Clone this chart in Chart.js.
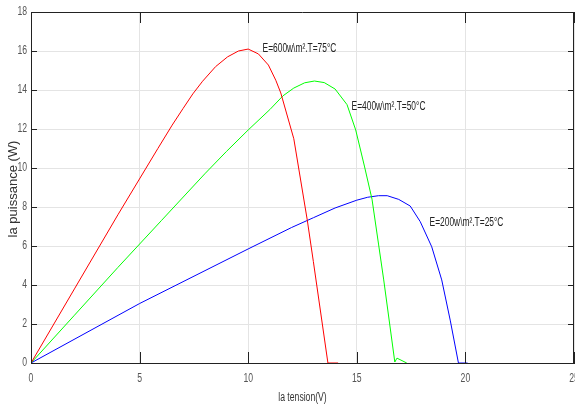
<!DOCTYPE html>
<html>
<head>
<meta charset="utf-8">
<script src="https://cdn.jsdelivr.net/npm/chart.js@4/dist/chart.umd.min.js"></script>
<style>
  html, body { margin: 0; padding: 0; background: #fff; overflow: hidden; }
  #box { width: 590px; height: 408px; }
</style>
</head>
<body>
<div id="box"><canvas id="courbes"></canvas></div>
<script>
// Courbes P(V)
const tensionRouge = [0, 2, 4, 5.84, 6.5, 7, 7.45, 7.9, 8.5, 9.05, 9.55, 10, 10.47, 10.93, 11.27, 11.5, 12.1, 12.72, 13.0, 13.67, 14.14];
const puissRouge   = [0, 3.8, 7.6, 11.0, 12.2, 13.05, 13.8, 14.45, 15.2, 15.7, 16.0, 16.1, 15.85, 15.28, 14.5, 13.85, 11.5, 7.33, 5.2, 0, 0];

const tensionVert = [0, 2, 4, 6, 8, 9, 10, 11, 11.6, 12.1, 12.6, 13.05, 13.5, 14.0, 14.55, 14.95, 15.35, 15.7, 16.0, 16.24, 16.75, 16.85, 17.3];
const puissVert   = [0, 2.45, 4.9, 7.3, 9.7, 10.85, 11.95, 13.0, 13.7, 14.1, 14.37, 14.46, 14.38, 14.05, 13.25, 11.95, 10.1, 8.4, 6.1, 4.26, 0.05, 0.25, 0];

const tensionBleu = [0, 5, 10, 12, 13, 14, 15, 15.5, 16, 16.4, 16.93, 17.46, 17.92, 18.45, 18.91, 19.3, 19.68, 20.1];
const puissBleu   = [0, 3.05, 5.85, 6.95, 7.45, 7.95, 8.35, 8.5, 8.58, 8.58, 8.39, 8.05, 7.25, 5.96, 4.26, 2.2, 0, 0];

// Graduations
const ticksTension = [0, 5, 10, 15, 20, 25];
const ticksPuiss = [0, 2, 4, 6, 8, 10, 12, 14, 16, 18];

// Légendes posées à côté des courbes (tension, puissance)
const etiquettes = [
  { texte: 'E=600w\\m².T=75°C', v: 10.66, p: 16.14 },
  { texte: 'E=400w\\m².T=50°C', v: 14.76, p: 13.13 },
  { texte: 'E=200w\\m².T=25°C', v: 18.35, p: 7.19 }
];

const police = "'Liberation Sans', Arial, sans-serif";

function points(vs, ps) {
  return vs.map((v, i) => ({ x: v, y: ps[i] }));
}

function serie(vs, ps, couleur) {
  return {
    data: points(vs, ps),
    borderColor: couleur,
    borderWidth: 1,
    pointRadius: 0,
    tension: 0,
    fill: false
  };
}

// texte "étroit" : police normale compressée en largeur
function texteEtroit(ctx, texte, x, y, align, echelle) {
  ctx.save();
  ctx.translate(x, y);
  ctx.scale(echelle, 1);
  ctx.textAlign = align;
  ctx.fillText(texte, 0, 0);
  ctx.restore();
}

// Cadre, graduations internes, libellés et textes des courbes
const cadrePlugin = {
  id: 'cadre',
  afterDatasetsDraw(chart) {
    const { ctx, chartArea: a, scales } = chart;
    ctx.save();
    ctx.strokeStyle = '#222';
    ctx.lineWidth = 1;
    ctx.beginPath();
    ctx.moveTo(a.left, a.top + 0.5);
    ctx.lineTo(a.right, a.top + 0.5);
    ctx.moveTo(a.right - 0.5, a.top);
    ctx.lineTo(a.right - 0.5, a.bottom);
    ticksTension.forEach(t => {
      const px = Math.round(scales.x.getPixelForValue(t)) + 0.5;
      ctx.moveTo(px, a.bottom);
      ctx.lineTo(px, a.bottom - 11);
      ctx.moveTo(px, a.top);
      ctx.lineTo(px, a.top + 11);
    });
    ticksPuiss.forEach(t => {
      const py = Math.round(scales.y.getPixelForValue(t)) + 0.5;
      ctx.moveTo(a.left, py);
      ctx.lineTo(a.left + 6, py);
      ctx.moveTo(a.right, py);
      ctx.lineTo(a.right - 6, py);
    });
    ctx.stroke();

    // libellés des graduations
    ctx.fillStyle = '#555';
    ctx.font = '12px ' + police;
    ctx.textBaseline = 'middle';
    ticksTension.forEach(t => {
      texteEtroit(ctx, String(t), scales.x.getPixelForValue(t), a.bottom + 16, 'center', 0.72);
    });
    ticksPuiss.forEach(t => {
      texteEtroit(ctx, String(t), a.left - 4, scales.y.getPixelForValue(t), 'right', 0.72);
    });

    // titres des axes
    ctx.fillStyle = '#333';
    texteEtroit(ctx, 'la tension(V)', (a.left + a.right) / 2, 398, 'center', 0.72);
    ctx.save();
    ctx.translate(13, 189);
    ctx.rotate(-Math.PI / 2);
    ctx.font = '13px ' + police;
    ctx.textAlign = 'center';
    ctx.fillText('la puissance (W)', 0, 0);
    ctx.restore();

    // textes des courbes
    ctx.fillStyle = '#222';
    ctx.font = '12px ' + police;
    etiquettes.forEach(e => {
      texteEtroit(ctx, e.texte, scales.x.getPixelForValue(e.v), scales.y.getPixelForValue(e.p), 'left', 0.7);
    });
    ctx.restore();
  }
};

const ctx = document.getElementById('courbes').getContext('2d');
const graphe = new Chart(ctx, {
  type: 'line',
  data: {
    datasets: [
      serie(tensionRouge, puissRouge, '#ff0000'),
      serie(tensionVert, puissVert, '#00ff00'),
      serie(tensionBleu, puissBleu, '#0000ff')
    ]
  },
  options: {
    responsive: true,
    maintainAspectRatio: false,
    animation: false,
    layout: { padding: { top: 12, right: 16, left: 0, bottom: 0 } },
    plugins: {
      legend: { display: false },
      tooltip: { enabled: false }
    },
    scales: {
      x: {
        type: 'linear',
        min: 0,
        max: 25,
        ticks: { stepSize: 5, display: false },
        grid: { color: '#e4e4e4', drawTicks: false },
        border: { color: '#222' },
        afterFit: s => { s.height = 45; }
      },
      y: {
        min: 0,
        max: 18,
        ticks: { stepSize: 2, display: false },
        grid: { color: '#e4e4e4', drawTicks: false },
        border: { color: '#222' },
        afterFit: s => { s.width = 31; }
      }
    }
  },
  plugins: [cadrePlugin]
});
</script>
</body>
</html>
